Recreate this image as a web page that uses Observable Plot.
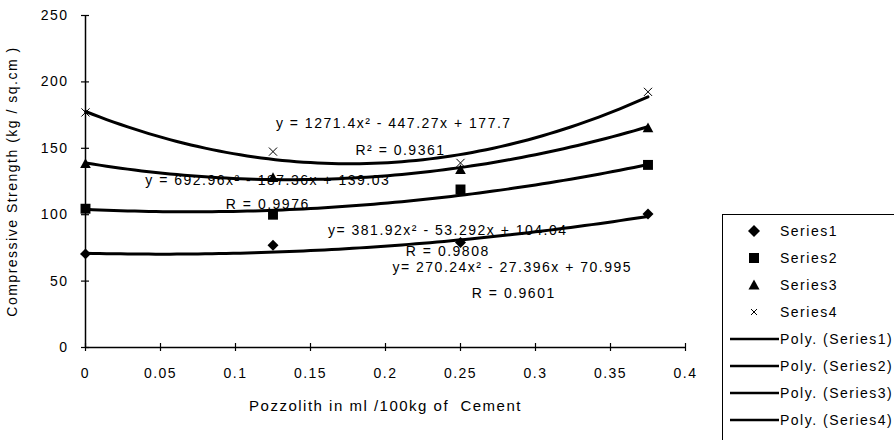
<!DOCTYPE html>
<html><head><meta charset="utf-8">
<script src="https://cdn.jsdelivr.net/npm/d3@7"></script>
<script src="https://cdn.jsdelivr.net/npm/@observablehq/plot@0.6"></script>
<style>
html,body{margin:0;padding:0;background:#fff;}
#wrap{position:relative;width:894px;height:440px;overflow:hidden;font-family:"Liberation Sans",Arial,sans-serif;color:#000;}
#legend{position:absolute;left:722px;top:214px;width:200px;height:260px;border:1.5px solid #000;background:#fff;}
.row{position:absolute;left:0;width:200px;height:20px;font-size:14px;letter-spacing:1.5px;white-space:nowrap;}
.row svg{position:absolute;left:0;top:0;}
.row span{position:absolute;left:57px;top:1px;line-height:18px;}
</style></head><body><div id="wrap"></div>
<script>
// ---- data ----
const xValues = [0, 0.125, 0.25, 0.375];
const series1 = [70.5, 77, 79, 100.5];
const series2 = [104.5, 100, 119, 137.5];
const series3 = [138.5, 128, 134, 165.5];
const series4 = [177, 147.5, 139, 192.5];
const seriesNames = ["Series1", "Series2", "Series3", "Series4"];
const polyNames = ["Poly. (Series1)", "Poly. (Series2)", "Poly. (Series3)", "Poly. (Series4)"];
// trendline equations as printed on the chart
const coefA = [270.24, 381.92, 692.96, 1271.4];
const coefB = [-27.396, -53.292, -187.36, -447.27];
const coefC = [70.995, 104.04, 139.03, 177.7];
const eqLabels = ["y= 270.24x² - 27.396x + 70.995", "y= 381.92x² - 53.292x + 104.04", "y = 692.96x² - 187.36x + 139.03", "y = 1271.4x² - 447.27x + 177.7"];
const rLabels = ["R = 0.9601", "R = 0.9808", "R = 0.9976", "R² = 0.9361"];
const eqLabelX = [0.2845, 0.2415, 0.1215, 0.2055];
const eqLabelY = [60, 88, 126, 169];
const rLabelX = [0.2855, 0.2415, 0.1215, 0.21];
const rLabelY = [41, 72, 108, 148];
const xTicks = [0, 0.05, 0.1, 0.15, 0.2, 0.25, 0.3, 0.35, 0.4];
const yTicks = [0, 50, 100, 150, 200, 250];
const xTitle = "Pozzolith in ml /100kg of  Cement";
const yTitle = "Compressive Strength (kg / sq.cm )";

// ---- build tables ----
const allSeries = [series1, series2, series3, series4];
const points = allSeries.map((s, k) => s.map((v, i) => ({series: seriesNames[k], x: xValues[i], y: v})));
const xMax = xValues[xValues.length - 1];
const curve = [];
for (let k = 0; k < 4; k++) {
  for (let j = 0; j <= 80; j++) {
    const x = xMax * j / 80;
    curve.push({series: seriesNames[k], x, y: coefA[k] * x * x + coefB[k] * x + coefC[k]});
  }
}
const labels = [];
for (let k = 0; k < 4; k++) {
  labels.push({x: eqLabelX[k], y: eqLabelY[k], t: eqLabels[k]});
  labels.push({x: rLabelX[k], y: rLabelY[k], t: rLabels[k]});
}

// ---- custom marker symbols ----
const diamondSym = {draw(c, size) { const r = Math.sqrt(size) / 2; c.moveTo(0, -r); c.lineTo(r, 0); c.lineTo(0, r); c.lineTo(-r, 0); c.closePath(); }};
const squareSym = {draw(c, size) { const r = Math.sqrt(size) / 2; c.rect(-r, -r, 2 * r, 2 * r); }};
const triSym = {draw(c, size) { const r = Math.sqrt(size) / 2; c.moveTo(0, -r); c.lineTo(r, r * 0.85); c.lineTo(-r, r * 0.85); c.closePath(); }};
const timesSym = {draw(c, size) { const r = Math.sqrt(size) / 2; c.moveTo(-r, -r); c.lineTo(r, r); c.moveTo(r, -r); c.lineTo(-r, r); }};

const chart = Plot.plot({
  width: 894, height: 440,
  marginLeft: 85, marginRight: 209, marginTop: 15, marginBottom: 93,
  x: {domain: [0, 0.4]},
  y: {domain: [0, 250]},
  style: "font-family:'Liberation Sans',Arial,sans-serif;font-size:14px;letter-spacing:1.5px;color:#000;background:#fff;overflow:visible;",
  marks: [
    Plot.axisX({ticks: xTicks, tickSize: 0, tickPadding: 21, tickFormat: d => String(d), label: null}),
    Plot.axisX({ticks: [], label: xTitle, labelAnchor: "center", labelOffset: 63, labelArrow: "none", fontSize: 15, style: "letter-spacing:2px"}),
    Plot.axisY({ticks: yTicks, tickSize: 0, tickPadding: 17, tickFormat: d => String(d), label: yTitle, labelAnchor: "center", labelOffset: 78, labelArrow: "none"}),
    Plot.ruleY([0], {stroke: "#000", strokeWidth: 1.5}),
    Plot.ruleX([0], {stroke: "#000", strokeWidth: 1.5}),
    Plot.ruleX(xTicks, {x: d => d, y1: 0, y2: 0, insetTop: -4, insetBottom: -4, stroke: "#000", strokeWidth: 1.2}),
    Plot.ruleY(yTicks, {y: d => d, x1: 0, x2: 0, insetLeft: -4, insetRight: -4, stroke: "#000", strokeWidth: 1.2}),
    Plot.line(curve, {x: "x", y: "y", z: "series", stroke: "#000", strokeWidth: 3}),
    Plot.dot(points[0], {x: "x", y: "y", symbol: diamondSym, r: 6.2, fill: "#000", stroke: "none"}),
    Plot.dot(points[1], {x: "x", y: "y", symbol: squareSym, r: 5.6, fill: "#000", stroke: "none"}),
    Plot.dot(points[2], {x: "x", y: "y", symbol: triSym, r: 6, fill: "#000", stroke: "none"}),
    Plot.dot(points[3], {x: "x", y: "y", symbol: timesSym, r: 4.6, fill: "none", stroke: "#000", strokeWidth: 1}),
    Plot.text(labels, {x: "x", y: "y", text: "t", fill: "#000", fontSize: 14, textAnchor: "middle", style: "letter-spacing:1.8px"})
  ]
});
const wrap = document.getElementById("wrap");
wrap.appendChild(chart);

// ---- legend ----
const legend = document.createElement("div");
legend.id = "legend";
const svgNS = "http://www.w3.org/2000/svg";
const markerPaths = [
  "M31,4 L37,10 L31,16 L25,10 Z",
  "M26,5 H36 V15 H26 Z",
  "M31,4.5 L36.5,14.5 L25.5,14.5 Z",
  "M28,7 L34,13 M34,7 L28,13"
];
const entries = seriesNames.map((n, i) => ({name: n, kind: "marker", i})).concat(polyNames.map((n, i) => ({name: n, kind: "line", i})));
entries.forEach((e, r) => {
  const row = document.createElement("div");
  row.className = "row";
  row.style.top = (6 + 27 * r) + "px";
  const svg = document.createElementNS(svgNS, "svg");
  svg.setAttribute("width", "60"); svg.setAttribute("height", "20");
  const p = document.createElementNS(svgNS, "path");
  if (e.kind === "marker") {
    p.setAttribute("d", markerPaths[e.i]);
    if (e.i === 3) { p.setAttribute("stroke", "#000"); p.setAttribute("fill", "none"); p.setAttribute("stroke-width", "1"); }
    else p.setAttribute("fill", "#000");
  } else {
    p.setAttribute("d", "M7,10 H56");
    p.setAttribute("stroke", "#000"); p.setAttribute("stroke-width", "2.5");
  }
  svg.appendChild(p);
  row.appendChild(svg);
  const sp = document.createElement("span");
  sp.textContent = e.name;
  row.appendChild(sp);
  legend.appendChild(row);
});
wrap.appendChild(legend);
</script>
</body></html>
